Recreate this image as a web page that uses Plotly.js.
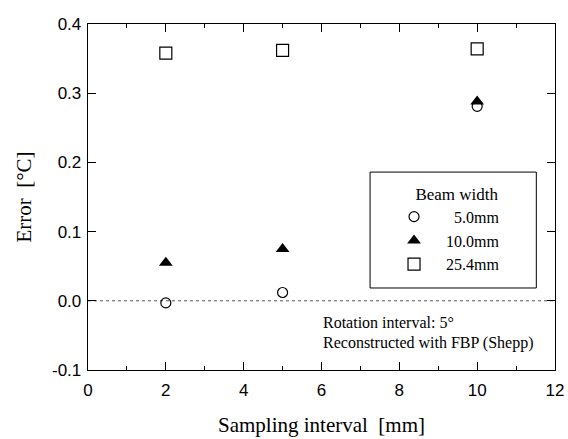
<!DOCTYPE html>
<html><head><meta charset="utf-8">
<script src="https://cdn.plot.ly/plotly-3.0.1.min.js"></script>
<style>body{margin:0;background:#fff}#c{width:568px;height:439px}</style>
</head><body><div id="c"></div>
<script>
const samplingInterval = [2, 5, 10];
const err5mm = [-0.003, 0.012, 0.281];
const err10mm = [0.055, 0.075, 0.288];
const err25mm = [0.358, 0.362, 0.364];
const seriesNames = ['\u00a0\u00a05.0mm', '10.0mm', '25.4mm'];
const xTicks = [0, 2, 4, 6, 8, 10, 12];
const yTicks = [-0.1, 0.0, 0.1, 0.2, 0.3, 0.4];
const yTickText = ['-0.1', '0.0', '0.1', '0.2', '0.3', '0.4'];

const serif = 'Liberation Serif, Times New Roman, serif';
const sans = 'Liberation Sans, Arial, sans-serif';
const pad = '\u00a0\u00a0\u00a0\u00a0\u00a0\u00a0\u00a0';

const traces = [
  {x: samplingInterval, y: err5mm, name: seriesNames[0] + pad, mode: 'markers', type: 'scatter',
   marker: {symbol: 'circle-open', size: 10, color: '#000', line: {width: 1.2, color: '#000'}}},
  {x: samplingInterval, y: err10mm, name: seriesNames[1] + pad, mode: 'markers', type: 'scatter',
   marker: {symbol: 'triangle-up', size: 12, color: '#000', line: {width: 0}}},
  {x: samplingInterval, y: err25mm, name: seriesNames[2] + pad, mode: 'markers', type: 'scatter',
   marker: {symbol: 'square-open', size: 12, color: '#000', line: {width: 1.2, color: '#000'}}}
];

const axisCommon = {
  showgrid: false, zeroline: false, showline: true, linecolor: '#000', linewidth: 1.3,
  mirror: 'ticks', ticks: 'inside', ticklen: 8, tickwidth: 1.3, tickcolor: '#000',
  tickfont: {family: sans, size: 17, color: '#000'}
};

const layout = {
  width: 568, height: 439,
  margin: {l: 88, r: 13, t: 24, b: 69},
  paper_bgcolor: '#fff', plot_bgcolor: '#fff',
  showlegend: true,
  xaxis: Object.assign({}, axisCommon, {
    range: [0, 12], tickvals: xTicks, ticktext: xTicks.map(String),
    ticklabelstandoff: 4,
    minor: {dtick: 1, ticks: 'inside', ticklen: 4, tickwidth: 1, tickcolor: '#000', showgrid: false},
    title: {text: 'Sampling interval  [mm]', font: {family: serif, size: 21, color: '#000'}, standoff: 18}
  }),
  yaxis: Object.assign({}, axisCommon, {
    range: [-0.1, 0.4], tickvals: yTicks, ticktext: yTickText,
    ticklabelstandoff: 2,
    title: {text: 'Error  [°C]', font: {family: serif, size: 21, color: '#000'}, standoff: 14}
  }),
  legend: {
    x: 0.6296, y: 0.556, xanchor: 'left', yanchor: 'top',
    bgcolor: 'rgba(0,0,0,0)', borderwidth: 0,
    itemwidth: 54,
    font: {family: serif, size: 16, color: '#000'},
    title: {text: 'Beam width', side: 'top center', font: {family: serif, size: 17, color: '#000'}},
    tracegroupgap: 0
  },
  shapes: [
    {type: 'rect', xref: 'paper', yref: 'paper', x0: 0.604, x1: 0.960, y0: 0.237, y1: 0.572,
     line: {color: '#000', width: 1}, fillcolor: '#fff', layer: 'below'},
    {type: 'line', xref: 'paper', yref: 'y', x0: 0, x1: 1, y0: 0, y1: 0,
     line: {color: '#555', width: 1, dash: 'dot'}, layer: 'below'}
  ],
  annotations: [
    {xref: 'paper', yref: 'paper', x: 0.499, y: 0.136, xanchor: 'left', yanchor: 'middle', align: 'left',
     showarrow: false, text: 'Rotation interval: 5°', font: {family: serif, size: 16, color: '#000'}},
    {xref: 'paper', yref: 'paper', x: 0.499, y: 0.078, xanchor: 'left', yanchor: 'middle', align: 'left',
     showarrow: false, text: 'Reconstructed with FBP (Shepp)', font: {family: serif, size: 16, color: '#000'}}
  ]
};

Plotly.newPlot('c', traces, layout, {staticPlot: true, displayModeBar: false});
</script></body></html>
